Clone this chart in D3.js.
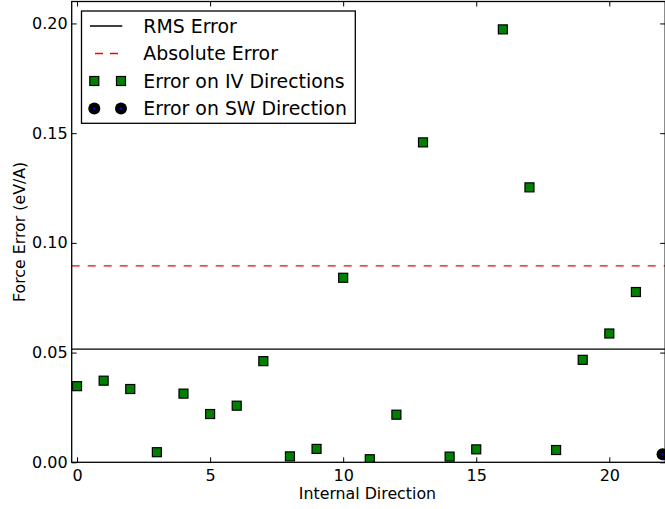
<!DOCTYPE html>
<html>
<head>
<meta charset="utf-8">
<script src="https://cdn.jsdelivr.net/npm/d3@7/dist/d3.min.js"></script>
<style>
  html, body { margin: 0; padding: 0; background: #fff; }
  svg { display: block; font-family: "DejaVu Sans", sans-serif; }
</style>
</head>
<body>
<svg id="chart" width="665" height="509"></svg>
<script>
// Force error per internal direction
const ivDirections = [0, 1, 2, 3, 4, 5, 6, 7, 8, 9, 10, 11, 12, 13, 14, 15, 16, 17, 18, 19, 20, 21];
const ivErrors = [0.0347, 0.0372, 0.0334, 0.0046, 0.0313, 0.0220, 0.0258, 0.0461, 0.0027, 0.0061,
                  0.0841, 0.0014, 0.0217, 0.1458, 0.0026, 0.0059, 0.1973, 0.1253, 0.0056, 0.0467,
                  0.0587, 0.0776];
const swDirection = [22];
const swError = [0.0037];
const rmsError = 0.0516;
const absError = 0.0895;

const xTicks = [0, 5, 10, 15, 20];
const yTicks = [0.00, 0.05, 0.10, 0.15, 0.20];
const legendLabels = ["RMS Error", "Absolute Error", "Error on IV Directions", "Error on SW Direction"];

const svg = d3.select("#chart");
const plotLeft = 71.7, plotRight = 665.2, plotTop = 1.5, plotBottom = 462.3;

const x = d3.scaleLinear().domain([-0.2, 22.1]).range([plotLeft, plotRight]);
const y = d3.scaleLinear().domain([0, 0.21]).range([plotBottom, plotTop]);

// clip region for plot content
svg.append("defs").append("clipPath").attr("id", "plotClip")
  .append("rect").attr("x", plotLeft).attr("y", plotTop)
  .attr("width", plotRight - plotLeft).attr("height", plotBottom - plotTop);

const plot = svg.append("g").attr("clip-path", "url(#plotClip)");

// reference lines
plot.append("line")
  .attr("x1", plotLeft).attr("x2", plotRight)
  .attr("y1", y(rmsError)).attr("y2", y(rmsError))
  .attr("stroke", "#000").attr("stroke-width", 1.3);
plot.append("line")
  .attr("x1", plotLeft).attr("x2", plotRight)
  .attr("y1", y(absError)).attr("y2", y(absError))
  .attr("stroke", "#ff0000").attr("stroke-width", 1.3)
  .attr("stroke-dasharray", "8,8");

// IV direction markers
const sq = 9;
plot.selectAll("rect.iv").data(ivDirections).enter().append("rect")
  .attr("class", "iv")
  .attr("x", (d) => x(d) - sq / 2)
  .attr("y", (d, i) => y(ivErrors[i]) - sq / 2)
  .attr("width", sq).attr("height", sq)
  .attr("fill", "#008000").attr("stroke", "#000").attr("stroke-width", 1.2);

// SW direction marker
plot.selectAll("g.sw").data(swDirection).enter().append("g")
  .attr("class", "sw")
  .attr("transform", (d, i) => `translate(${x(d)},${y(swError[i])})`)
  .each(function () {
    d3.select(this).append("circle").attr("r", 6).attr("fill", "#000");
    d3.select(this).append("circle").attr("r", 1.2).attr("fill", "#0000ff");
  });

// axes with inward ticks on all four sides
const tickLen = 5;
const xAxisB = svg.append("g").attr("transform", `translate(0,${plotBottom})`)
  .call(d3.axisBottom(x).tickValues(xTicks).tickFormat(d3.format("d"))
    .tickSizeInner(-tickLen).tickSizeOuter(0).tickPadding(7.5));
const xAxisT = svg.append("g").attr("transform", `translate(0,${plotTop})`)
  .call(d3.axisTop(x).tickValues(xTicks).tickFormat("")
    .tickSizeInner(-tickLen).tickSizeOuter(0));
const yAxisL = svg.append("g").attr("transform", `translate(${plotLeft},0)`)
  .call(d3.axisLeft(y).tickValues(yTicks).tickFormat(d3.format(".2f"))
    .tickSizeInner(-tickLen).tickSizeOuter(0).tickPadding(4));
const yAxisR = svg.append("g").attr("transform", `translate(${plotRight},0)`)
  .call(d3.axisRight(y).tickValues(yTicks).tickFormat("")
    .tickSizeInner(-tickLen).tickSizeOuter(0));

[xAxisB, xAxisT, yAxisL, yAxisR].forEach((g) => {
  g.select(".domain").remove();
  g.selectAll("line").attr("stroke", "#000").attr("stroke-width", 1);
  g.selectAll("text").attr("font-family", "DejaVu Sans").attr("font-size", 16).attr("fill", "#000");
});

// frame
svg.append("rect")
  .attr("x", plotLeft).attr("y", plotTop)
  .attr("width", plotRight - plotLeft).attr("height", plotBottom - plotTop)
  .attr("fill", "none").attr("stroke", "#000").attr("stroke-width", 1.3);

// axis titles
svg.append("text")
  .attr("x", (plotLeft + plotRight) / 2 - 1).attr("y", 499)
  .attr("text-anchor", "middle").attr("font-size", 15.8).attr("fill", "#000")
  .text("Internal Direction");
svg.append("text")
  .attr("transform", `translate(25,${(plotTop + plotBottom) / 2}) rotate(-90)`)
  .attr("text-anchor", "middle").attr("font-size", 15.8).attr("fill", "#000")
  .text("Force Error (eV/A)");

// legend
const legend = svg.append("g");
legend.append("rect")
  .attr("x", 81.5).attr("y", 11).attr("width", 273.8).attr("height", 112.3)
  .attr("fill", "#fff").attr("stroke", "#000").attr("stroke-width", 1.3);
const rowY = [26, 53.5, 81, 108.5];
const sampleX = [90, 122.3];
const markX = [94.3, 121];

legend.append("line")
  .attr("x1", sampleX[0]).attr("x2", sampleX[1]).attr("y1", rowY[0]).attr("y2", rowY[0])
  .attr("stroke", "#000").attr("stroke-width", 1.3);
legend.append("line")
  .attr("x1", sampleX[0]).attr("x2", sampleX[1]).attr("y1", rowY[1]).attr("y2", rowY[1])
  .attr("stroke", "#ff0000").attr("stroke-width", 1.3).attr("stroke-dasharray", "8,7")
  .attr("stroke-dashoffset", 10);
markX.forEach((mx) => {
  legend.append("rect")
    .attr("x", mx - sq / 2).attr("y", rowY[2] - sq / 2).attr("width", sq).attr("height", sq)
    .attr("fill", "#008000").attr("stroke", "#000").attr("stroke-width", 1.2);
  legend.append("circle").attr("cx", mx).attr("cy", rowY[3]).attr("r", 6).attr("fill", "#000");
  legend.append("circle").attr("cx", mx).attr("cy", rowY[3]).attr("r", 1.2).attr("fill", "#0000ff");
});
legend.selectAll("text.lbl").data(legendLabels).enter().append("text")
  .attr("class", "lbl")
  .attr("x", 143.3).attr("y", (d, i) => rowY[i]).attr("dy", "0.36em")
  .attr("font-size", 18.9).attr("fill", "#000")
  .text((d) => d);
</script>
</body>
</html>
